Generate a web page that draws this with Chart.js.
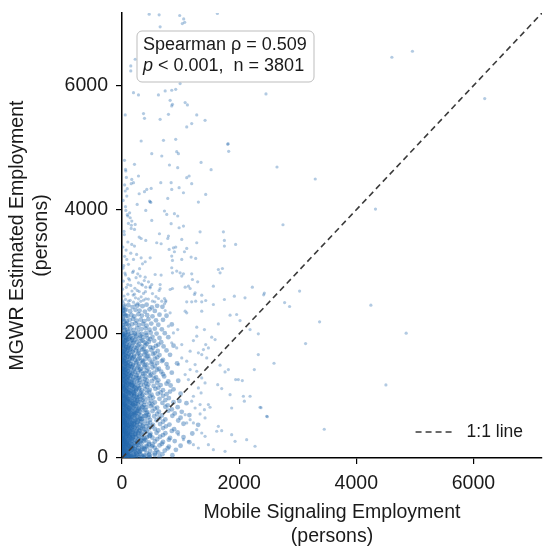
<!DOCTYPE html>
<html>
<head>
<meta charset="utf-8">
<script src="https://cdn.jsdelivr.net/npm/chart.js@4.4.1/dist/chart.umd.min.js"></script>
<style>
  body { margin: 0; background: #fff; }
  #wrap { width: 550px; height: 551px; }
</style>
</head>
<body>
<div id="wrap"><canvas id="chart" width="550" height="551"></canvas></div>
<script>
// Axis setup
const axisMax = 7170;
const xTicks = [0, 2000, 4000, 6000];
const yTicks = [0, 2000, 4000, 6000];
const xTitle = ['Mobile Signaling Employment', '(persons)'];
const yTitle = ['MGWR Estimated Employment', '(persons)'];
const lineLabel = '1:1 line';
const statsLine1 = 'Spearman \u03c1 = 0.509';
const statsLine2 = ' < 0.001,  n = 3801';

// Scattered points away from the dense core (mobile, mgwr)
const sparsePoints = [
  [2646,4689],[3299,4495],[2748,3758],[4327,4011],[2430,2657],[2418,2629],[3032,2689],[2776,2505],[2861,2441],[4249,2463],
  [3373,2194],[4851,2011],[3134,1844],[2595,1527],[4505,1178],[2373,811],[2481,666],[3453,463],
  [4607,6457],[4958,6554],[6192,5791],[2458,5866],[1811,5065],[1821,4941],
  [464,7150],[634,7141],[985,7130],[1053,7075],[1030,7000],[1070,7020],[1628,7162],[651,6947],[225,6425],[150,6318],
  [150,6237],[196,5887],[281,5850],[622,5850],[737,5915],[849,5925],[917,5941],[992,6033],[822,5763],[861,5699],
  [849,5673],[1078,5726],[1117,5689],[367,5549],[384,5473],[651,5457],[793,5537],[1276,5528],[1190,5388],[1105,5334],
  [1418,5441],[55,5528],[327,5108],[708,5118],[917,5134],[1805,5054],[508,4904],[679,4866],[963,4904],[934,4936],
  [43,4796],[213,4731],[810,4721],[951,4678],[1350,4763],[1521,4645],[65,4624],[167,4489],[196,4436],[157,4420],
  [281,4544],[662,4436],[839,4436],[849,4328],[1105,4516],[1146,4544],[1190,4420],[498,4344],[423,4328],[975,4355],
  [1049,4274],[1429,4247],[55,4302],[82,4221],[293,4258],[384,4291],[781,4183],[481,4129],[470,4140],[492,4118],
  [1304,4124],[259,4086],[65,3989],[99,3899],[140,3871],[406,3989],[725,3980],[764,3925],[895,3936],[951,3899],
  [167,3818],[225,3763],[157,3699],[213,3683],[508,3828],[839,3775],[975,3710],[1049,3737],[1333,3645],[1731,3645],
  [639,3613],[793,3576],[781,3537],[293,3560],[327,3537],[167,3441],[213,3415],[406,3505],[593,3468],[668,3452],
  [1020,3521],[1276,3468],[1748,3505],[1748,3415],[1940,3441],[805,3360],[878,3387],[917,3398],[895,3323],[1105,3376],
  [1066,3323],[82,3199],[196,3199],[327,3226],[350,3129],[396,3162],[481,3226],[849,3253],[861,3183],[1020,3199],
  [1180,3237],[1258,3215],[934,3011],[992,2984],[1049,2968],[1020,2931],[849,3065],[861,2984],[1645,3037],[1714,3053],
  [1674,2984],[196,3011],[269,2968],[396,2914],[310,2931],[566,2957],[668,2947],[1190,2968],[1202,2876],[1292,2839],
  [1560,2769],[111,2892],[99,2795],[281,2823],[350,2786],[452,2839],[508,2795],[481,2742],[406,2753],[651,2795],
  [651,2731],[634,2699],[822,2715],[861,2731],[1078,2753],[1134,2769],[1163,2731],[1248,2662],[1361,2624],[2225,2753],
  [1918,2608],[2100,2581],[170,2691],[213,2640],[293,2683],[327,2597],[367,2651],[406,2565],[281,2565],[367,2543],
  [520,2527],[559,2516],[622,2570],[679,2527],[747,2538],[725,2570],[725,2484],[747,2516],[1105,2516],[1190,2516],
  [1236,2634],[1258,2527],[1361,2516],[1429,2538],[1560,2473],[1748,2554],[26,2495],[55,2468],[111,2527],[196,2511],
  [225,2468],[269,2495],[293,2468],
  [60,4650],[75,4520],[90,4340],[60,4050],[90,3920],[110,3780],[160,3750],[40,3600],[70,3350],[30,3100],[50,2980],
  [15,2530],[60,2555],[140,2540],[230,2580],[320,2525],[450,2560],[580,2600],[35,2610],[100,2640],[190,2625],
  [260,2700],[400,2680],[520,2650],[10,2720],[75,2750],[150,2780],[220,2735],[330,2800],[480,2760],[25,2850],
  [130,2870],[240,2905],[380,2860],[60,2950],[180,2990],[300,3050],[20,3060],[110,3120],[45,3250],[150,3300],
  [250,3280],[15,3400],[100,3480],[35,3650],[130,3950],[20,4150],[45,4400],
  [822,2339],[1105,2339],[1078,2366],[737,2376],[1361,2366],[1407,2070],[1845,2302],[1957,2312],[2015,2215],[1645,2161],
  [1276,2108],[2186,2070],[2327,2000],[2327,1666],[2259,1424],[1986,1263],[2054,1247],[1940,1263],[1634,1182],[1702,1118],
  [1816,1424],[1759,1387],[1674,1495],[1429,1828],[1475,1774],[1390,1747],[1361,1666],[1304,1694],[1446,1613],[1219,1892],
  [1276,1963],[1531,1947],[1589,1908],[2072,995],[2089,915],[2186,995],[2356,818],[2469,673],[2271,189],[2128,295],
  [1872,376],[1930,269],[1645,511],[1617,431],[1702,440],[1475,860],[1503,818],[1407,779],[1333,710],[1418,645],
  [1845,1021],[1872,806],[1304,1129],[1350,1048],[1219,995],[1078,1344],[1134,1263],[1163,1424],[1020,1613],[1105,1560],
  [963,1505],[934,1774],[1020,1828],[849,1855],[878,2016],[951,2070],[793,2124],[1163,1721],[1248,1505],[1276,1398],
  [1361,1290],[1418,1210],[1190,915],[1248,806],[1333,860],[1078,698],[1163,618],[1219,565],[1105,565],[1276,457],
  [1361,403],[1418,350],[963,376],[1049,295],[1134,269],[1219,215],[1304,161],[1475,215],[1560,134],[1759,108]
];

// Dense core near the origin (mobile, mgwr)
const corePoints = [
  [30,2440],[110,2462],[180,2431],[260,2455],[350,2447],[420,2470],[510,2428],[600,2452],[690,2436],
  [15,2371],[70,2392],[140,2365],[230,2388],[300,2376],[390,2359],[470,2395],[560,2369],
  [45,2312],[95,2289],[160,2306],[210,2281],[280,2318],[340,2294],[430,2301],[520,2283],[640,2310],[760,2292],
  [20,2230],[80,2208],[130,2224],[190,2241],[250,2213],[320,2229],[380,2205],[450,2236],[580,2218],[700,2227],
  [10,2141],[60,2163],[115,2138],[170,2155],[230,2170],[290,2144],[360,2159],[420,2132],[500,2166],[620,2147],[850,2153],
  [35,2092],[90,2071],[140,2085],[200,2064],[260,2098],[330,2077],[400,2089],[470,2068],[560,2083],[680,2074],
  [15,2002],[55,2021],[105,1995],[160,2016],[215,2007],[275,2027],[340,1998],[410,2013],[490,2019],[590,2004],[730,2012],
  [30,1951],[75,1932],[125,1947],[180,1926],[240,1958],[300,1938],[365,1944],[440,1929],[520,1953],[640,1935],[790,1946],
  [10,1862],[50,1881],[95,1866],[145,1889],[200,1858],[255,1875],[320,1884],[390,1861],[460,1872],[550,1888],[670,1865],
  [25,1807],[70,1791],[115,1812],[165,1796],[215,1783],[270,1809],[335,1794],[400,1816],[480,1788],[580,1805],[710,1797],[880,1810],
  [15,1722],[45,1741],[90,1726],[135,1747],[185,1718],[235,1735],[290,1729],[350,1744],[420,1716],[500,1738],[610,1725],[760,1733],
  [30,1668],[65,1651],[110,1673],[155,1657],[205,1645],[260,1670],[315,1654],[380,1666],[450,1649],[530,1675],[640,1658],[820,1663],
  [10,1583],[50,1601],[85,1578],[130,1596],[175,1605],[225,1581],[275,1593],[335,1574],[400,1599],[470,1587],[560,1602],[700,1579],
  [25,1528],[60,1511],[100,1533],[145,1516],[190,1505],[240,1527],[295,1514],[355,1536],[420,1509],[500,1522],[600,1531],[760,1513],[940,1525],
  [15,1442],[45,1461],[80,1437],[120,1456],[165,1466],[210,1441],[260,1452],[315,1435],[375,1463],[440,1447],[520,1458],[630,1439],[780,1454],
  [30,1389],[60,1371],[95,1394],[135,1376],[180,1365],[225,1387],[275,1373],[330,1398],[395,1369],[465,1384],[550,1377],[670,1391],[850,1374],
  [10,1302],[40,1321],[75,1297],[110,1316],[150,1325],[195,1299],[240,1312],[290,1294],[345,1318],[410,1306],[480,1323],[580,1301],[720,1315],
  [25,1248],[55,1231],[90,1254],[125,1236],[165,1225],[210,1251],[255,1233],[305,1257],[365,1229],[430,1246],[510,1238],[620,1252],[790,1234],[960,1245],
  [15,1163],[40,1181],[70,1158],[105,1176],[140,1186],[180,1161],[225,1173],[270,1155],[320,1179],[380,1166],[450,1184],[540,1162],[660,1175],[830,1168],
  [30,1108],[55,1091],[85,1113],[120,1096],[155,1087],[195,1112],[240,1094],[285,1117],[340,1089],[400,1105],[475,1098],[570,1114],[700,1093],[880,1106],
  [10,1022],[35,1041],[65,1017],[95,1036],[130,1046],[170,1021],[210,1033],[255,1015],[305,1039],[360,1026],[425,1044],[505,1020],[610,1035],[760,1028],[1000,1037],
  [20,968],[45,951],[75,973],[105,956],[140,947],[180,972],[220,954],[265,977],[315,949],[375,965],[445,958],[530,974],[640,953],[800,966],
  [10,882],[30,901],[55,877],[85,896],[115,906],[150,881],[190,893],[230,875],[275,899],[330,886],[390,904],[465,880],[560,895],[690,887],[880,898],[1100,884],
  [20,828],[40,811],[65,833],[95,816],[125,807],[160,831],[200,814],[245,837],[295,809],[350,825],[415,818],[495,834],[600,813],[740,826],[950,819],
  [10,742],[30,761],[50,737],[75,756],[105,766],[135,741],[170,753],[210,735],[255,759],[305,746],[365,764],[435,740],[520,755],[630,748],[790,762],[1020,744],
  [20,688],[40,671],[60,693],[85,676],[115,667],[145,691],[180,674],[220,697],[265,669],[320,685],[380,678],[455,694],[550,673],[680,686],[860,679],[1150,692],
  [10,602],[25,621],[45,597],[70,616],[95,626],[125,601],[155,613],[190,595],[230,619],[280,606],[335,624],[400,600],[480,615],[590,608],[740,622],[960,604],
  [15,548],[35,531],[55,553],[80,536],[105,527],[135,551],[170,534],[210,557],[255,529],[305,545],[365,538],[440,554],[530,533],[650,546],[810,539],[1050,552],[1300,535],
  [10,462],[25,481],[40,457],[60,476],[85,486],[110,461],[140,473],[175,455],[215,479],[260,466],[315,484],[380,460],[460,475],[560,468],[700,482],[890,464],
  [15,408],[30,391],[50,413],[70,396],[95,387],[120,411],[150,394],[185,417],[225,389],[275,405],[330,398],[400,414],[485,393],[590,406],[740,399],[950,412],[1200,395],
  [10,322],[20,341],[35,317],[55,336],[75,346],[100,321],[130,333],[160,315],[195,339],[240,326],[290,344],[350,320],[425,335],[520,328],[650,342],[820,324],[1050,337],
  [15,268],[25,251],[40,273],[60,256],[80,247],[105,271],[135,254],[170,277],[210,249],[255,265],[310,258],[375,274],[455,253],[560,266],[700,259],[900,272],[1150,255],
  [10,182],[20,201],[35,177],[50,196],[70,206],[95,181],[120,193],[150,175],[185,199],[230,186],[280,204],[340,180],[415,195],[510,188],[640,202],[800,184],[1000,197],
  [15,128],[30,111],[45,133],[65,116],[85,107],[110,131],[140,114],[175,137],[215,109],[265,125],[320,118],[390,134],[480,113],[590,126],[730,119],[920,132],
  [10,42],[25,61],[40,37],[60,56],[80,66],[105,41],[135,53],[170,35],[210,59],[255,46],[310,64],[380,40],[460,55],[560,48],[690,62],[860,44]
];

// In-between rows of the core
const innerPoints = [
  [5,1968],[40,1984],[85,1979],[150,1962],[225,1988],[310,1971],[420,1980],
  [20,1912],[60,1897],[110,1918],[170,1901],[230,1909],[350,1893],[480,1915],
  [5,1829],[35,1846],[80,1838],[130,1824],[185,1849],[290,1831],[420,1842],[620,1827],
  [20,1772],[55,1758],[100,1779],[150,1764],[250,1770],[370,1756],[530,1775],
  [8,1689],[35,1704],[75,1698],[120,1686],[180,1709],[280,1693],[400,1701],[560,1690],
  [20,1632],[45,1618],[95,1637],[140,1621],[200,1629],[300,1615],[430,1636],[600,1622],
  [5,1549],[35,1563],[70,1557],[115,1544],[160,1566],[250,1551],[360,1560],[520,1547],[680,1562],
  [20,1492],[50,1478],[90,1497],[130,1481],[185,1489],[280,1475],[390,1496],[560,1482],
  [5,1409],[30,1423],[65,1418],[105,1404],[150,1426],[200,1411],[300,1420],[420,1407],[600,1422],
  [20,1352],[50,1338],[85,1357],[120,1341],[165,1349],[250,1335],[360,1356],[500,1342],[700,1351],
  [10,1282],[30,1268],[60,1287],[95,1271],[135,1279],[180,1265],[270,1286],[390,1272],[550,1281],
  [20,1212],[45,1198],[80,1217],[115,1201],[155,1209],[200,1195],[290,1216],[410,1202],[600,1211],[760,1198],
  [5,1128],[25,1143],[55,1137],[90,1124],[125,1146],[165,1131],[210,1140],[300,1127],[430,1145],[620,1133],
  [15,1072],[40,1058],[70,1077],[105,1061],[145,1069],[190,1055],[230,1076],[320,1062],[460,1071],[660,1057],[820,1070],
  [5,988],[25,1003],[50,997],[80,984],[115,1006],[155,991],[200,1000],[245,987],[340,1005],[480,993],[700,1001],
  [15,932],[35,918],[60,937],[95,921],[130,929],[170,915],[210,936],[255,922],[350,931],[500,917],[740,933],[980,920],
  [5,848],[25,863],[45,857],[75,844],[105,866],[140,851],[180,860],[220,847],[270,865],[380,852],[520,861],[780,849],
  [15,792],[30,778],[55,797],[85,781],[115,789],[150,775],[190,796],[230,782],[280,791],[400,777],[560,795],[850,784],
  [5,708],[20,723],[40,717],[65,704],[95,726],[125,711],[160,720],[200,707],[240,725],[290,712],[420,721],[600,709],[900,718],
  [15,652],[30,638],[50,657],[75,641],[105,649],[135,635],[170,656],[210,642],[255,651],[310,637],[450,655],[640,643],[1000,650],
  [5,568],[20,583],[35,577],[55,564],[80,586],[110,571],[140,580],[175,567],[215,585],[260,572],[330,581],[480,569],[700,584],
  [15,512],[30,498],[45,517],[70,501],[95,509],[125,495],[155,516],[190,502],[230,511],[280,497],[350,515],[500,503],[750,510],
  [5,428],[20,443],[35,437],[55,424],[75,446],[100,431],[130,440],[160,427],[200,445],[245,432],[300,441],[420,429],[620,444],[850,436],
  [15,372],[25,358],[45,377],[65,361],[90,369],[115,355],[145,376],[180,362],[220,371],[270,357],[340,375],[480,363],[700,370],
  [5,288],[18,303],[30,297],[48,284],[68,306],[90,291],[115,300],[145,287],[180,305],[225,292],[285,301],[400,289],[600,304],[800,296],
  [10,232],[22,218],[38,237],[55,221],[75,229],[100,215],[130,236],[165,222],[205,231],[260,217],[330,235],[460,223],[680,230],
  [5,148],[15,163],[28,157],[45,144],[65,166],[85,151],[110,160],[140,147],[175,165],[220,152],[280,161],[380,149],[560,164],[780,156],
  [8,92],[20,78],[35,97],[50,81],[70,89],[95,75],[120,96],[150,82],[190,91],[240,77],[300,95],[420,83],[620,90],
  [5,10],[18,22],[32,12],[48,25],[68,8],[90,20],[115,14],[145,24],[185,9],[230,19],[290,12],[360,26],[470,15],[640,21]
];

// Darkest patch hugging the y axis and the origin
const densePoints = [
  [3,1390],[60,1365],[25,1330],[95,1300],[12,1262],[50,1228],[80,1190],[8,1155],[35,1118],[70,1082],[110,1046],
  [18,1010],[55,975],[90,940],[5,905],[40,870],[75,835],[120,800],[15,765],[50,730],[85,695],[140,662],[8,628],
  [38,594],[70,560],[105,527],[160,494],[20,462],[55,430],[90,398],[130,366],[180,334],[10,302],[42,270],[78,238],
  [115,206],[160,174],[210,142],[28,110],[62,78],[100,46],[150,14],
  [170,1180],[240,1120],[200,1050],[300,990],[260,930],[190,880],[340,820],[280,770],[220,720],[400,680],[330,630],
  [260,590],[200,545],[420,510],[350,470],[290,430],[230,395],[470,360],[380,320],[320,285],[260,250],[520,215],
  [430,180],[350,150],[290,110],[560,80],[470,45],[390,15],[250,60],[330,40],[200,20],
  [5,2420],[40,2385],[20,2330],[65,2290],[8,2250],[35,2195],[85,2160],[15,2110],[50,2060],[100,2030],[10,1990],
  [45,1950],[75,1905],[5,1870],[30,1820],[65,1785],[100,1750],[12,1710],[40,1670],[80,1630],[5,1595],[30,1555],
  [60,1520],[95,1480],[15,1445],[45,1425]
];

const FONT = "'Liberation Sans', Arial, sans-serif";
const TEXT = '#1a1a1a';
const DOT = 'rgba(33, 102, 172, 0.35)';
const DOT_CORE = 'rgba(33, 102, 172, 0.42)';

const toXY = (arr) => arr.map(p => ({ x: p[0], y: p[1] }));

// Stats box and the legend for the 1:1 line
const overlayPlugin = {
  id: 'overlay',
  afterDraw(chart) {
    const { ctx, chartArea: ca } = chart;
    ctx.save();

    // stats box
    const bx = ca.left + 15, by = ca.top + 18, bw = 177, bh = 51, r = 5;
    ctx.beginPath();
    ctx.roundRect(bx, by, bw, bh, r);
    ctx.fillStyle = 'rgba(255,255,255,0.9)';
    ctx.fill();
    ctx.strokeStyle = '#bdbdbd';
    ctx.lineWidth = 1;
    ctx.stroke();

    ctx.fillStyle = TEXT;
    ctx.textBaseline = 'middle';
    ctx.textAlign = 'left';
    ctx.font = `18px ${FONT}`;
    ctx.fillText(statsLine1, bx + 6, by + 14);
    ctx.font = `italic 18px ${FONT}`;
    ctx.fillText('p', bx + 6, by + 35);
    const pw = ctx.measureText('p').width;
    ctx.font = `18px ${FONT}`;
    ctx.fillText(statsLine2, bx + 6 + pw, by + 35);

    // legend
    ctx.font = `17.5px ${FONT}`;
    const tw = ctx.measureText(lineLabel).width;
    const tx = ca.right - 19 - tw;
    const ly = ca.bottom - 26;
    ctx.fillText(lineLabel, tx, ly);
    ctx.beginPath();
    ctx.setLineDash([6, 4]);
    ctx.strokeStyle = '#3a3a3a';
    ctx.lineWidth = 1.6;
    ctx.moveTo(tx - 51, ly);
    ctx.lineTo(tx - 15, ly);
    ctx.stroke();

    ctx.restore();
  }
};

const dotSet = (label, points, color, radius) => ({
  label,
  data: toXY(points),
  backgroundColor: color,
  borderWidth: 0,
  pointRadius: radius
});

const ctx = document.getElementById('chart').getContext('2d');
const chart = new Chart(ctx, {
  type: 'scatter',
  data: {
    datasets: [
      {
        type: 'line',
        label: lineLabel,
        data: [{ x: 0, y: 0 }, { x: axisMax, y: axisMax }],
        borderColor: '#3a3a3a',
        borderWidth: 1.6,
        borderDash: [6, 4],
        pointRadius: 0,
        fill: false,
        order: -1
      },
      dotSet('dense', densePoints, DOT_CORE, 2.6),
      dotSet('inner', innerPoints, DOT_CORE, 2.4),
      dotSet('core', corePoints, DOT_CORE, 2.4),
      dotSet('tracts', sparsePoints, DOT, 1.6)
    ]
  },
  options: {
    responsive: false,
    animation: false,
    layout: { padding: { left: 0, top: 13, right: 8, bottom: 0 } },
    plugins: {
      legend: { display: false },
      tooltip: { enabled: false }
    },
    scales: {
      x: {
        type: 'linear',
        position: 'bottom',
        min: 0,
        max: axisMax,
        afterBuildTicks: (s) => { s.ticks = xTicks.map(v => ({ value: v })); },
        afterFit: (s) => { s.height = 93; s.paddingLeft = 0; s.paddingRight = 0; },
        ticks: { font: { family: FONT, size: 19.5 }, color: TEXT, padding: 8, maxRotation: 0, callback: (v) => String(v) },
        grid: { drawOnChartArea: false, drawTicks: true, tickLength: 6, color: '#000', lineWidth: 1.2 },
        border: { display: true, color: '#000', width: 1.5 },
        title: {
          display: true,
          text: xTitle,
          color: TEXT,
          font: { family: FONT, size: 19.5, lineHeight: 1.25 },
          padding: { top: 0, bottom: 2 }
        }
      },
      y: {
        type: 'linear',
        position: 'left',
        min: 0,
        max: axisMax,
        afterBuildTicks: (s) => { s.ticks = yTicks.map(v => ({ value: v })); },
        afterFit: (s) => { s.width = 122; s.paddingTop = 0; s.paddingBottom = 0; },
        ticks: { font: { family: FONT, size: 19.5 }, color: TEXT, padding: 8, callback: (v) => String(v) },
        grid: { drawOnChartArea: false, drawTicks: true, tickLength: 6, color: '#000', lineWidth: 1.2 },
        border: { display: true, color: '#000', width: 1.5 },
        title: {
          display: true,
          text: yTitle,
          color: TEXT,
          font: { family: FONT, size: 19.5, lineHeight: 1.25 },
          padding: { top: 5, bottom: 0 }
        }
      }
    }
  },
  plugins: [overlayPlugin]
});
</script>
</body>
</html>
